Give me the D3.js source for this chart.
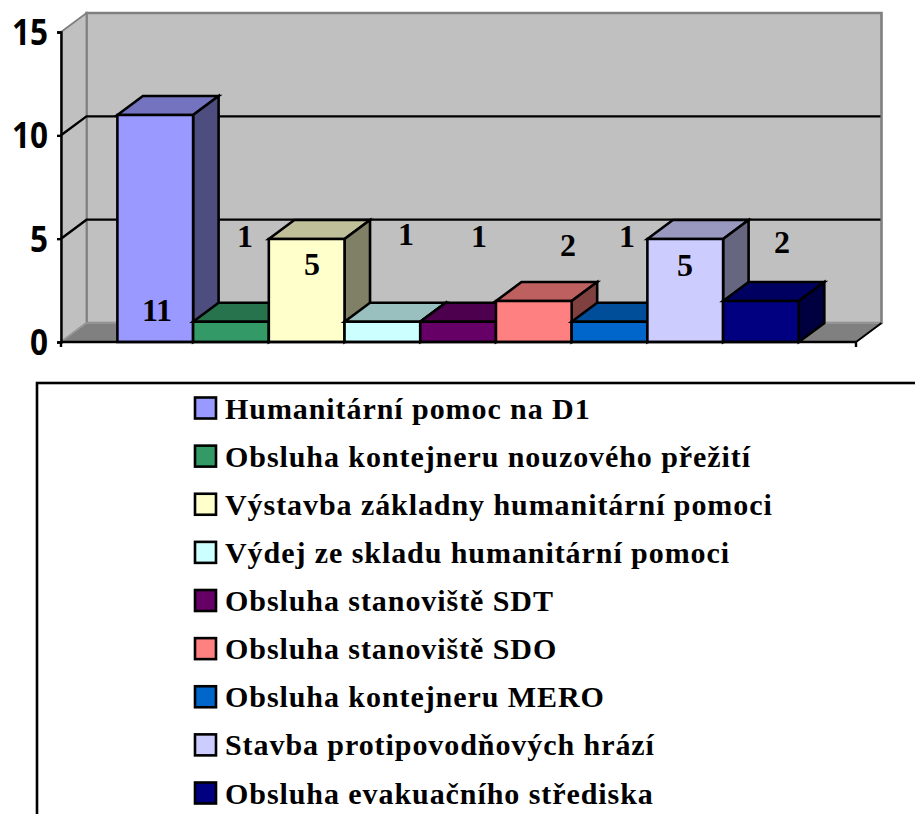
<!DOCTYPE html>
<html><head><meta charset="utf-8">
<script src="https://cdn.jsdelivr.net/npm/d3@7/dist/d3.min.js"></script>
<style>html,body{margin:0;padding:0;background:#fff;overflow:hidden}svg{display:block}</style>
</head><body><svg id="c" width="915" height="814"></svg>
<script>
const categories = ["Humanitární pomoc na D1","Obsluha kontejneru nouzového přežití","Výstavba základny humanitární pomoci","Výdej ze skladu humanitární pomoci","Obsluha stanoviště SDT","Obsluha stanoviště SDO","Obsluha kontejneru MERO","Stavba protipovodňových hrází","Obsluha evakuačního střediska"];
const values = [11,1,5,1,1,2,1,5,2];
const yTicks = [0,5,10,15];
const colors = ["#9999FF","#339966","#FFFFCC","#CCFFFF","#660066","#FF8080","#0066CC","#CCCCFF","#000080"];

// layout
const L=61,R=856,B=342,T=32,DX=25.5,DY=-19;
const labelAt=[[157,321],[245,247],[312,275],[406,245],[479,247],[568,256],[627,247],[685,276],[782,253]];
const svg=d3.select("#c");
const x=d3.scaleBand().domain(categories).range([L,R]).paddingInner(0).paddingOuter(0.75);
const y=d3.scaleLinear().domain([0,15]).range([B,T]);
const line=d3.line();
const poly=(p,fill,stroke,sw)=>svg.append("path").attr("d",line(p)+"Z").attr("fill",fill).attr("stroke",stroke).attr("stroke-width",sw).attr("stroke-linejoin","miter");
const shade=(c,k)=>{const r=d3.rgb(c);return d3.rgb(r.r*k,r.g*k,r.b*k).formatHex();};

// walls and floor
poly([[L+DX,y(15)+DY],[R+DX,y(15)+DY],[R+DX,y(0)+DY],[L+DX,y(0)+DY]],"#C0C0C0","#808080",2.6);
poly([[L,y(15)],[L+DX,y(15)+DY],[L+DX,y(0)+DY],[L,y(0)]],"#C0C0C0","#808080",1.8);
poly([[L,y(0)],[L+DX,y(0)+DY],[R+DX,y(0)+DY],[R,y(0)]],"#808080","#9a9a9a",1.5);
svg.append("path").attr("d",line([[R,B],[R+DX,B+DY]])).attr("stroke","#000").attr("stroke-width",2);

// gridlines
[5,10].forEach(v=>{
  svg.append("path").attr("d",line([[L,y(v)],[L+DX,y(v)+DY],[R+DX-1,y(v)+DY]])).attr("fill","none").attr("stroke","#000").attr("stroke-width",2.4);
});

// bars
categories.forEach((c,i)=>{
  const x0=x(c)-0.4,x1=x0+x.bandwidth(),yt=y(values[i])+0.4,yb=y(0),col=colors[i],st="#000",sw=2.6;
  poly([[x0,yt],[x0+DX,yt+DY],[x1+DX,yt+DY],[x1,yt]],shade(col,0.75),st,sw);
  poly([[x1,yt],[x1+DX,yt+DY],[x1+DX,yb+DY],[x1,yb]],shade(col,0.5),st,sw);
  poly([[x0,yt],[x1,yt],[x1,yb],[x0,yb]],col,st,sw);
});

// axes
const ax=svg.append("g").attr("transform",`translate(${L},0)`).call(d3.axisLeft(y).tickValues(yTicks).tickSize(4).tickPadding(9).tickFormat(d3.format("d")));
ax.selectAll("path").attr("stroke","#000").attr("stroke-width",2.4);
ax.selectAll("line").attr("stroke","#000").attr("stroke-width",2.4);
ax.selectAll("text").attr("font-family","'Open Sans',sans-serif").attr("font-weight",700).attr("font-size",35).attr("fill","#000").attr("dy","0.36em")
  .attr("lengthAdjust","spacingAndGlyphs").attr("textLength",d=>String(d).length*18);
svg.append("path").attr("d",line([[L-1,B],[R,B]])).attr("stroke","#000").attr("stroke-width",2.6);
svg.append("path").attr("d",line([[R,B],[R,B+5]])).attr("stroke","#000").attr("stroke-width",2.4);
svg.append("path").attr("d",line([[L,B],[L,B+5]])).attr("stroke","#000").attr("stroke-width",2.4);

// data labels
const serif="'Liberation Serif','Times New Roman',serif";
values.forEach((v,i)=>{
  svg.append("text").attr("x",labelAt[i][0]).attr("y",labelAt[i][1]).attr("text-anchor","middle")
   .attr("font-family",serif).attr("font-weight",700).attr("font-size",32).attr("fill","#000").text(v);
});

// legend
svg.append("rect").attr("x",37).attr("y",383).attr("width",900).attr("height",460).attr("fill","none").attr("stroke","#000").attr("stroke-width",2.6);
const ly=d3.scalePoint().domain(categories).range([408,793]);
categories.forEach((c,i)=>{
  svg.append("rect").attr("x",195).attr("y",ly(c)-10.5).attr("width",21).attr("height",21).attr("fill",colors[i]).attr("stroke","#000").attr("stroke-width",2.6);
  svg.append("text").attr("x",225).attr("y",ly(c)+10.5).attr("font-family",serif).attr("font-weight",700).attr("font-size",30).attr("letter-spacing","0.93px").attr("fill","#000").text(c);
});
</script></body></html>
